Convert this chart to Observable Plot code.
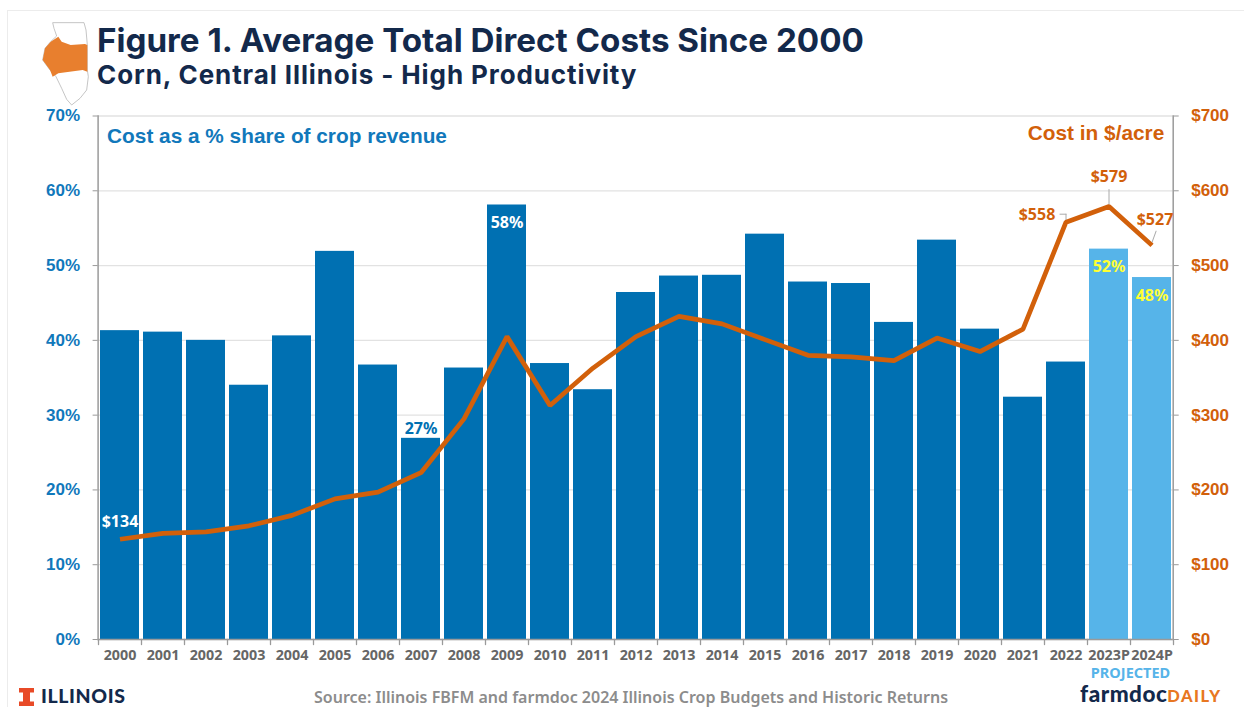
<!DOCTYPE html>
<html>
<head>
<meta charset="utf-8">
<script src="https://cdn.jsdelivr.net/npm/d3@7"></script>
<script src="https://cdn.jsdelivr.net/npm/@observablehq/plot@0.6"></script>
<style>
  html, body { margin: 0; padding: 0; background: #fff; }
  #page { position: relative; width: 1244px; height: 707px; overflow: hidden; }
  #sheet { position: absolute; left: 7px; top: 10px; right: -2px; bottom: -2px; border: 1px solid #ececec; }
  #head { position: relative; height: 96px; }
  #map { position: absolute; left: 30px; top: 10px; }
  .t { position: absolute; white-space: nowrap; }
  #title { left: 97px; top: 21px; font: 700 33.2px/38px Inter, sans-serif; color: #13294b; }
  #subtitle { left: 97px; top: 60px; font: 700 26px/30px Inter, sans-serif; color: #13294b; letter-spacing: 0.9px; }
  #foot { position: absolute; left: 0; top: 680px; width: 1244px; height: 27px; }
  #uni { left: 41px; top: 6px; font: 900 19.5px/20px Lato, sans-serif; color: #13294b; letter-spacing: .6px; }
  #source { left: 314px; top: 7px; font: 600 16px/20px "Noto Sans", sans-serif; color: #8c8c8c; }
  #brand { left: 1080px; top: 2px; font: 900 22.5px/24px Lato, sans-serif; color: #13294b; letter-spacing: 0.5px; }
  #brand span { font-size: 16.5px; color: #e87722; letter-spacing: 1.5px; }
  #chart svg { display: block; }
</style>
</head>
<body>
<div id="page">
  <div id="sheet"></div>
  <div id="head">
    <svg id="map" width="70" height="100" viewBox="0 0 210 300">
      <path d="M68 38 L162 38 L168 60 L172 105 L172 180 L175 200 L170 240 L150 265 L125 285 L110 268 L95 235 L78 200 L60 180 L38 150 L45 115 L62 95 L80 78 L72 55 Z" fill="#fff" stroke="#b9b9b9" stroke-width="2.5"/>
      <path d="M62 95 L85 80 L95 95 L122 105 L165 102 L172 105 L172 185 L158 180 L85 190 L68 200 L60 180 L38 150 L45 115 Z" fill="#e87f2e"/>
    </svg>
    <div class="t" id="title">Figure 1. Average Total Direct Costs Since 2000</div>
    <div class="t" id="subtitle">Corn, Central Illinois - High Productivity</div>
  </div>
  <div id="chart"></div>
  <div id="foot">
    <svg class="t" style="left:19px;top:8px" width="15" height="18" viewBox="0 0 15 18">
      <path d="M0 0H15V4.5H11V13.5H15V18H0V13.5H4V4.5H0Z" fill="#e84a27"/>
    </svg>
    <div class="t" id="uni">ILLINOIS</div>
    <div class="t" id="source">Source: Illinois FBFM and farmdoc 2024 Illinois Crop Budgets and Historic Returns</div>
    <div class="t" id="brand">farmdoc<span>DAILY</span></div>
  </div>
</div>
<script>
// Crop years, direct costs as a share of revenue (%), and direct costs ($/acre)
const years = ["2000","2001","2002","2003","2004","2005","2006","2007","2008","2009","2010","2011","2012",
  "2013","2014","2015","2016","2017","2018","2019","2020","2021","2022","2023P","2024P"];
const sharePct = [41.3,41.1,40.0,34.0,40.6,51.9,36.7,26.9,36.3,58.1,36.9,33.4,46.4,
  48.6,48.7,54.2,47.8,47.6,42.4,53.4,41.5,32.4,37.1,52.2,48.4];
const costPerAcre = [134,142,144,152,166,188,197,223,295,405,313,363,405,
  432,422,401,380,378,373,403,385,415,558,579,527];
const projectedYears = ["2023P","2024P"];
const shareTicks = [0,10,20,30,40,50,60,70];
const costTicks = [0,100,200,300,400,500,600,700];

const BLUE = "#0070b2", SKY = "#56b4e9", ORANGE = "#d2600a", AXIS_BLUE = "#1178bb", GRID = "#e2e2e2", AXIS = "#9a9a9a";

const rows = years.map((year, i) => ({
  year, share: sharePct[i], cost: costPerAcre[i], projected: projectedYears.includes(year)
}));
const rowOf = y => rows.find(d => d.year === y);

// Both series share one vertical scale: $700 sits level with 70%
const costY = d => d.cost / 10;
const dollars = v => `$${v}`;
const pct = d => `${Math.round(d.share)}%`;
const segment = {draw(ctx, l) { ctx.moveTo(0, 0); ctx.lineTo(0, -l); }};
const axisFont = {fontFamily: "Liberation Sans, sans-serif", fontWeight: 700, fontSize: 17};
const labelFont = {fontFamily: "'Noto Sans', sans-serif", fontWeight: 700, fontSize: 16};
const captionFont = {fontFamily: "Liberation Sans, sans-serif", fontWeight: 700, fontSize: 20.8};

const chart = Plot.plot({
  width: 1244,
  height: 594,
  marginTop: 19.5,
  marginBottom: 51,
  marginLeft: 97.6,
  marginRight: 71.3,
  x: {type: "band", domain: years, paddingInner: 0.09, paddingOuter: 0.045, label: null},
  y: {domain: [0, 70], label: null},
  marks: [
    Plot.gridY(shareTicks, {stroke: GRID, strokeOpacity: 1, strokeWidth: 1.3}),
    Plot.barY(rows.filter(d => !d.projected), {x: "year", y: "share", fill: BLUE}),
    Plot.barY(rows.filter(d => d.projected), {x: "year", y: "share", fill: SKY}),
    Plot.ruleY([0], {stroke: AXIS, strokeWidth: 1.5}),
    Plot.frame({anchor: "left", stroke: AXIS, strokeWidth: 1.5}),
    Plot.frame({anchor: "right", stroke: AXIS, strokeWidth: 1.5}),

    Plot.axisY({ticks: shareTicks, tickFormat: d => `${d}%`, tickSize: 5, tickPadding: 13, stroke: AXIS, fill: AXIS_BLUE, ...axisFont}),
    Plot.axisY({ticks: costTicks.map(v => v / 10), anchor: "right", tickFormat: d => dollars(d * 10), tickSize: 5, tickPadding: 13, stroke: AXIS, fill: ORANGE, label: null, ...axisFont}),
    Plot.axisX({tickSize: 0, tickPadding: 10, fill: "#666", fontFamily: "'Noto Sans', sans-serif", fontWeight: 700, fontSize: 14.3, label: null}),

    // Axis ticks fall on the boundaries between years
    Plot.vector(rows, {x: "year", y: () => 0, length: 5, rotate: 180, anchor: "start", shape: segment, stroke: AXIS, strokeWidth: 1.3, dx: -21.5}),
    Plot.vector(rows.slice(-1), {x: "year", y: () => 0, length: 5, rotate: 180, anchor: "start", shape: segment, stroke: AXIS, strokeWidth: 1.3, dx: 21.5}),

    // Share labels
    Plot.text([rowOf("2007")], {x: "year", y: "share", text: pct, dy: -9, fill: BLUE, ...labelFont}),
    Plot.text([rowOf("2009")], {x: "year", y: "share", text: pct, dy: 18, fill: "#fff", ...labelFont}),
    Plot.text(rows.filter(d => d.projected), {x: "year", y: "share", text: pct, dy: 18, fill: "#ffff33", ...labelFont}),

    // Leader lines for the last three cost labels
    Plot.vector([rowOf("2022")], {x: "year", y: costY, length: 8, rotate: 0, anchor: "start", shape: segment, stroke: "#aaa", strokeWidth: 1}),
    Plot.vector([rowOf("2022")], {x: "year", y: costY, length: 6, rotate: 270, anchor: "start", shape: segment, stroke: "#aaa", strokeWidth: 1, dy: -8}),
    Plot.vector([rowOf("2023P")], {x: "year", y: costY, length: 17, rotate: 0, anchor: "start", shape: segment, stroke: "#aaa", strokeWidth: 1}),
    Plot.vector([rowOf("2024P")], {x: "year", y: costY, length: 12, rotate: 20, anchor: "start", shape: segment, stroke: "#aaa", strokeWidth: 1, dy: -3}),

    Plot.line(rows, {x: "year", y: costY, stroke: ORANGE, strokeWidth: 4.7, strokeLinejoin: "miter", strokeLinecap: "butt"}),

    // Cost labels
    Plot.text([rowOf("2000")], {x: "year", y: costY, text: d => dollars(d.cost), dy: -17, fill: "#fff", ...labelFont}),
    Plot.text([rowOf("2022")], {x: "year", y: costY, text: d => dollars(d.cost), dx: -29, dy: -7, fill: ORANGE, ...labelFont}),
    Plot.text([rowOf("2023P")], {x: "year", y: costY, text: d => dollars(d.cost), dy: -30, fill: ORANGE, ...labelFont}),
    Plot.text([rowOf("2024P")], {x: "year", y: costY, text: d => dollars(d.cost), dx: 3, dy: -26, fill: ORANGE, ...labelFont}),

    // Series captions and the note under the projected years
    Plot.text(["Cost as a % share of crop revenue"], {frameAnchor: "top-left", dx: 9, dy: 12, lineAnchor: "top", fill: AXIS_BLUE, ...captionFont}),
    Plot.text(["Cost in $/acre"], {frameAnchor: "top-right", dx: -9, dy: 9, lineAnchor: "top", fill: ORANGE, ...captionFont}),
    Plot.text(["PROJECTED"], {x: () => "2023P", y: () => 0, dx: 21.5, dy: 34, fill: SKY, fontFamily: "'Noto Sans', sans-serif", fontWeight: 700, fontSize: 14.5})
  ]
});
document.getElementById("chart").append(chart);
</script>
</body>
</html>
